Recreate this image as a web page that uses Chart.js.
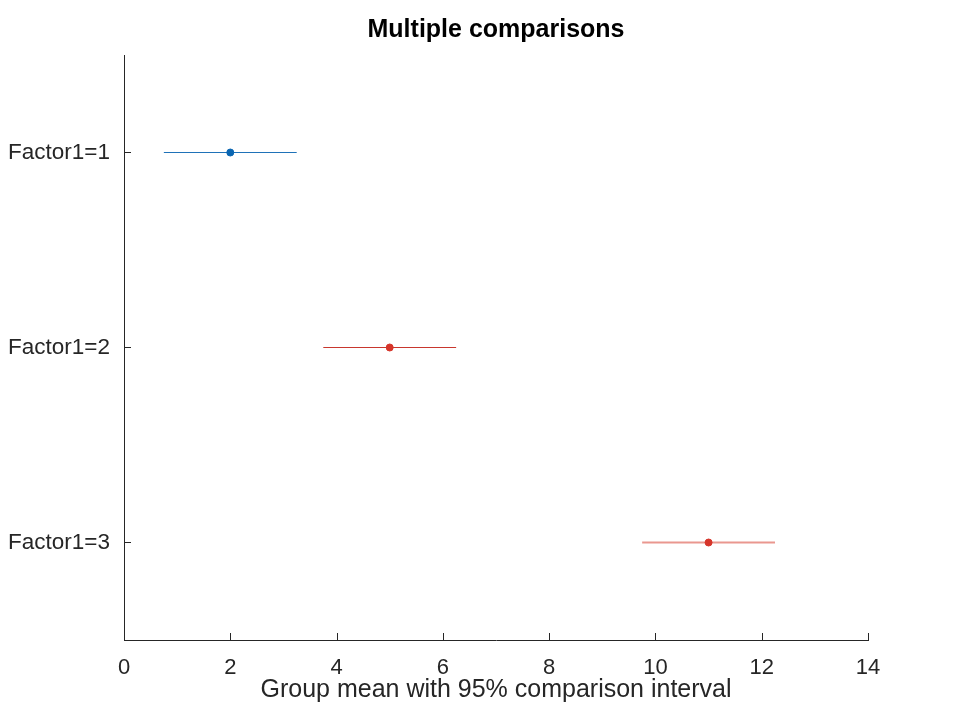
<!DOCTYPE html>
<html>
<head>
<meta charset="utf-8">
<script src="https://cdn.jsdelivr.net/npm/chart.js@4/dist/chart.umd.min.js"></script>
<style>
  html, body { margin: 0; padding: 0; background: #fff; }
  canvas { display: block; }
</style>
</head>
<body>
<canvas id="chart" width="960" height="720"></canvas>
<script>
// group labels, top to bottom
const groups = ['Factor1=1', 'Factor1=2', 'Factor1=3'];
// group means and 95% comparison interval ends
const means = [2, 5, 11];
const lower = [0.75, 3.75, 9.75];
const upper = [3.25, 6.25, 12.25];
const xTicks = [0, 2, 4, 6, 8, 10, 12, 14];

const lineColors = ['#1f72b8', '#c8372e', '#ea978f'];
const lineWidths = [1, 1, 2];
const markColors = ['#0a66b2', '#d6352a', '#d6352a'];

const textColor = '#262626';
const fontFamily = '"Liberation Sans", Arial, Helvetica, sans-serif';

// interval lines, one dataset per group
const intervalSets = groups.map((g, i) => ({
    label: g,
    data: [{ x: lower[i], y: i + 1 }, { x: upper[i], y: i + 1 }],
    showLine: true,
    borderColor: lineColors[i],
    borderWidth: lineWidths[i],
    pointRadius: 0,
    order: 2,
}));

const meanSet = {
    label: 'means',
    data: means.map((m, i) => ({ x: m, y: i + 1 })),
    showLine: false,
    pointRadius: 3.5,
    pointBackgroundColor: markColors,
    pointBorderColor: markColors,
    pointBorderWidth: 1,
    order: 1,
};

// Octave style ticks, pointing into the axes
const innerTicks = {
    id: 'innerTicks',
    beforeDatasetsDraw(chart) {
        const { ctx, chartArea, scales } = chart;
        ctx.save();
        ctx.strokeStyle = textColor;
        ctx.lineWidth = 1;
        ctx.beginPath();
        scales.x.ticks.forEach(t => {
            const px = Math.round(scales.x.getPixelForValue(t.value)) + 0.5;
            ctx.moveTo(px, chartArea.bottom);
            ctx.lineTo(px, chartArea.bottom - 7);
        });
        scales.y.ticks.forEach(t => {
            const py = Math.floor(scales.y.getPixelForValue(t.value)) + 0.5;
            ctx.moveTo(chartArea.left, py);
            ctx.lineTo(chartArea.left + 7, py);
        });
        ctx.stroke();
        ctx.restore();
    }
};

new Chart(document.getElementById('chart'), {
    type: 'scatter',
    data: { datasets: [meanSet, ...intervalSets] },
    plugins: [innerTicks],
    options: {
        responsive: false,
        animation: false,
        devicePixelRatio: 1,
        layout: { padding: { left: 0, right: 92, top: 0, bottom: 0 } },
        plugins: {
            legend: { display: false },
            tooltip: { enabled: false },
            title: {
                display: true,
                fullSize: false,
                text: 'Multiple comparisons',
                color: '#000',
                font: { family: fontFamily, size: 25, weight: 'bold' },
                padding: { top: 15, bottom: 10 },
            },
        },
        scales: {
            x: {
                type: 'linear',
                min: 0,
                max: 14,
                afterBuildTicks: s => { s.ticks = xTicks.map(v => ({ value: v })); },
                afterFit: s => { s.height = 80; },
                grid: { display: false, drawTicks: false },
                border: { display: true, color: textColor, width: 1 },
                ticks: {
                    color: textColor,
                    padding: 15,
                    maxRotation: 0,
                    font: { family: fontFamily, size: 22 },
                },
                title: {
                    display: true,
                    text: 'Group mean with 95% comparison interval',
                    color: textColor,
                    font: { family: fontFamily, size: 25 },
                    padding: { top: 0, bottom: 15 },
                },
            },
            y: {
                type: 'linear',
                reverse: true,
                min: 0.5,
                max: 3.5,
                afterBuildTicks: s => { s.ticks = groups.map((g, i) => ({ value: i + 1 })); },
                afterFit: s => { s.width = 124; },
                grid: { display: false, drawTicks: false },
                border: { display: true, color: textColor, width: 1 },
                ticks: {
                    color: textColor,
                    padding: 14,
                    font: { family: fontFamily, size: 22.5 },
                    callback: v => groups[v - 1],
                },
            },
        },
    },
});
</script>
</body>
</html>
